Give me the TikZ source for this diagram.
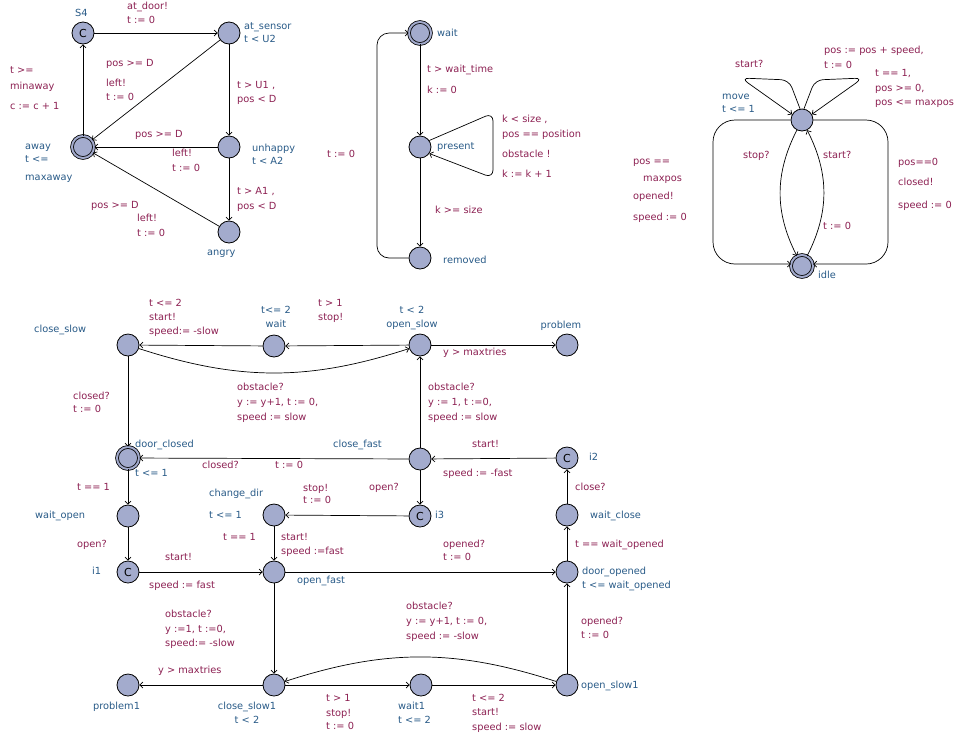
\documentclass[tikz,border=0pt]{standalone}
\usepackage{fontspec}
\setmainfont{DejaVu Sans}
\usepackage{tikz}
\usetikzlibrary{arrows.meta}
\definecolor{locfill}{RGB}{163,171,205}
\definecolor{locname}{RGB}{40,90,135}
\definecolor{guardcol}{RGB}{140,32,82}
\tikzset{
    loc/.style={draw, circle, fill=locfill, minimum size=22pt, inner sep=0pt, line width=0.8pt, font=\fontsize{11}{12}\selectfont},
    initloc/.style={loc, double=locfill, double distance=2pt},
    edge/.style={-{Straight Barb[length=3pt, width=6pt]}, line width=0.7pt},
    lname/.style={text=locname, inner sep=0pt, anchor=north west, align=left, font=\fontsize{9.8}{15}\selectfont},
    lbl/.style={text=guardcol, inner sep=0pt, anchor=north west, align=left, font=\fontsize{9.8}{15}\selectfont}
}

\begin{document}
\begin{tikzpicture}[x=1pt, y=-1pt]
    \useasboundingbox (0,0) rectangle (961,740);

    % user
    \node[loc] (S4) at (83,33) {C};
    \node[loc] (at_sensor) at (229,33) {};
    \node[initloc] (away) at (83,147) {};
    \node[loc] (unhappy) at (229,147) {};
    \node[loc] (angry) at (229,232) {};
    \node[lname] (n-S4) at (75,9) {S4};
    \node[lname] (n-at_sensor) at (244,22) {at\_sensor\\[-2pt]t < U2};
    \node[lname] (n-away) at (25,144) {away\\[-2pt]t <=\\[3pt]maxaway};
    \node[lname] (n-unhappy) at (252,144) {unhappy\\[-2pt]t < A2};
    \node[lname] (n-angry) at (207,250) {angry};

    \draw[edge] (S4) -- (at_sensor);
    \draw[edge] (at_sensor) -- (away);
    \draw[edge] (at_sensor) -- (unhappy);
    \draw[edge] (unhappy) -- (away);
    \draw[edge] (unhappy) -- (angry);
    \draw[edge] (angry) -- (away);
    \draw[edge] (away) -- (S4);
    \node[lbl] (e-door) at (127,2) {at\_door!\\[-1pt]t := 0};
    \node[lbl] (e-left1) at (106,59) {pos >= D\\[5pt]left!\\[-1pt]t := 0};
    \node[lbl] (e-u1) at (237,81) {t > U1 ,\\[-1pt]pos < D};
    \node[lbl] (e-pos2) at (135,130) {pos >= D};
    \node[lbl] (e-left2) at (172,149) {left!\\t := 0};
    \node[lbl] (e-a1) at (237,187) {t > A1 ,\\pos < D};
    \node[lbl] (e-pos3) at (91,201) {pos >= D};
    \node[lbl] (e-left3) at (137,214) {left!\\t := 0};
    \node[lbl] (e-back) at (10,66) {t >=\\[1pt]minaway\\[5pt]c := c + 1};

    % obstacle
    \node[initloc] (obwait) at (420,33) {};
    \node[loc] (present) at (420,147) {};
    \node[loc] (removed) at (420,258) {};
    \node[lname] (n-obwait) at (437,29) {wait};
    \node[lname] (n-present) at (437,142) {present};
    \node[lname] (n-removed) at (443,256) {removed};

    \draw[edge] (obwait) -- (present);
    \draw[edge] (present) -- (removed);
    \draw[edge, rounded corners=8pt] (present.35) -- (493,113) -- (493,178) -- (present.-35);
    \draw[edge, rounded corners=12pt] (removed.west) -| (377,150) |- (obwait.west);
    \node[lbl] (e-appear) at (427,65) {t > wait\_time\\[6pt]k := 0};
    \node[lbl] (e-obst) at (502,115) {k < size ,\\pos == position\\[5pt]obstacle !\\[5pt]k := k + 1};
    \node[lbl] (e-gone) at (435,206) {k >= size};
    \node[lbl] (e-reset) at (327,150) {t := 0};

    % door motor
    \node[loc] (move) at (802,120) {};
    \node[initloc] (idle) at (802,266) {};
    \node[lname] (n-move) at (722,94) {move\\[-2pt]t <= 1};
    \node[lname] (n-idle) at (818,271) {idle};

    \draw[edge, rounded corners=8pt] (move.100) -- (789,80) -- (741,78) -- (move.150);
    \draw[edge, rounded corners=8pt] (move.80) -- (815,80) -- (863,78) -- (move.30);
    \draw[edge, rounded corners=22pt] (move.west) -| (713,190) |- (idle.170);
    \draw[edge, rounded corners=22pt] (move.east) -| (888,190) |- (idle.10);
    \draw[edge] (move) to[bend right=27] (idle);
    \draw[edge] (idle) to[bend right=27] (move);
    \node[lbl] (e-start1) at (735,60) {start?};
    \node[lbl] (e-step) at (824,46) {pos := pos + speed,\\t := 0};
    \node[lbl] (e-tick) at (875,69) {t == 1,\\pos >= 0,\\[-1pt]pos <= maxpos};
    \node[lbl] (e-top) at (633,159) {pos ==\\[2pt]\hspace*{10pt}maxpos\\[3pt]opened!\\[6pt]speed := 0};
    \node[lbl] (e-bottom) at (898,158) {pos==0\\[5pt]closed!\\[8pt]speed := 0};
    \node[lbl] (e-stop) at (743,151) {stop?};
    \node[lbl] (e-start2) at (823,151) {start?};
    \node[lbl] (e-clock) at (823,222) {t := 0};

    % controller
    \node[loc] (close_slow) at (128,345) {};
    \node[loc] (wait) at (274,346) {};
    \node[loc] (open_slow) at (420,345) {};
    \node[loc] (problem) at (567,345) {};
    \node[initloc] (door_closed) at (128,458) {};
    \node[loc] (close_fast) at (420,459) {};
    \node[loc] (i2) at (567,458) {C};
    \node[loc] (wait_open) at (128,516) {};
    \node[loc] (change_dir) at (274,515) {};
    \node[loc] (i3) at (420,516) {C};
    \node[loc] (wait_close) at (567,515) {};
    \node[loc] (i1) at (128,572) {C};
    \node[loc] (open_fast) at (274,572) {};
    \node[loc] (door_opened) at (567,572) {};
    \node[loc] (problem1) at (128,685) {};
    \node[loc] (close_slow1) at (274,685) {};
    \node[loc] (wait1) at (421,685) {};
    \node[loc] (open_slow1) at (567,685) {};

    \node[lname] (n-close_slow) at (34,325) {close\_slow};
    \node[lname, anchor=north, align=center] (n-wait) at (276,306) {t<= 2\\[-1pt]wait};
    \node[lname, anchor=north, align=center] (n-open_slow) at (412,306) {t < 2\\[-1pt]open\_slow};
    \node[lname, anchor=north] (n-problem) at (561,321) {problem};
    \node[lname] (n-door_closed) at (135,440) {door\_closed};
    \node[lname] (n-dc_inv) at (135,469) {t <= 1};
    \node[lname] (n-close_fast) at (333,440) {close\_fast};
    \node[lname] (n-i2) at (589,453) {i2};
    \node[lname] (n-wait_open) at (35,511) {wait\_open};
    \node[lname] (n-change_dir) at (209,489) {change\_dir};
    \node[lname] (n-cd_inv) at (209,511) {t <= 1};
    \node[lname] (n-i3) at (435,511) {i3};
    \node[lname] (n-wait_close) at (590,511) {wait\_close};
    \node[lname] (n-i1) at (92,567) {i1};
    \node[lname] (n-open_fast) at (297,576) {open\_fast};
    \node[lname] (n-door_opened) at (582,567) {door\_opened\\[-1pt]t <= wait\_opened};
    \node[lname] (n-problem1) at (93,702) {problem1};
    \node[lname, anchor=north, align=center] (n-close_slow1) at (247,702) {close\_slow1\\[-1pt]t < 2};
    \node[lname] (n-wait1) at (398,702) {wait1\\[-1pt]t <= 2};
    \node[lname] (n-open_slow1) at (581,681) {open\_slow1};

    \draw[edge] (open_slow) -- (wait);
    \draw[edge] (wait) -- (close_slow);
    \draw[edge] (close_slow) to[bend right=18] (open_slow);
    \draw[edge] (open_slow) -- (problem);
    \draw[edge] (close_slow) -- (door_closed);
    \draw[edge] (close_fast) -- (open_slow);
    \draw[edge] (close_fast) -- (door_closed);
    \draw[edge] (i2) -- (close_fast);
    \draw[edge] (close_fast) -- (i3);
    \draw[edge] (i3) -- (change_dir);
    \draw[edge] (door_closed) -- (wait_open);
    \draw[edge] (wait_open) -- (i1);
    \draw[edge] (change_dir) -- (open_fast);
    \draw[edge] (i1) -- (open_fast);
    \draw[edge] (open_fast) -- (door_opened);
    \draw[edge] (open_fast) -- (close_slow1);
    \draw[edge] (door_opened) -- (wait_close);
    \draw[edge] (wait_close) -- (i2);
    \draw[edge] (open_slow1) -- (door_opened);
    \draw[edge] (close_slow1) -- (problem1);
    \draw[edge] (close_slow1) -- (wait1);
    \draw[edge] (wait1) -- (open_slow1);
    \draw[edge] (open_slow1) to[bend right=18] (close_slow1);

    \node[lbl] (e-os_w) at (318,299) {t > 1\\[-1pt]stop!};
    \node[lbl] (e-w_cs) at (149,299) {t <= 2\\[-1pt]start!\\[-1pt]speed:= -slow};
    \node[lbl] (e-cs_os) at (237,383) {obstacle?\\y := y+1, t := 0,\\speed := slow};
    \node[lbl] (e-os_p) at (443,348) {y > maxtries};
    \node[lbl] (e-cs_dc) at (73,392) {closed?\\[-2pt]t := 0};
    \node[lbl] (e-cf_os) at (428,383) {obstacle?\\y := 1, t :=0,\\speed := slow};
    \node[lbl] (e-cf_dc1) at (202,461) {closed?};
    \node[lbl] (e-cf_dc2) at (275,461) {t := 0};
    \node[lbl] (e-i2_cf1) at (472,440) {start!};
    \node[lbl] (e-i2_cf2) at (443,469) {speed := -fast};
    \node[lbl] (e-cf_i3) at (369,483) {open?};
    \node[lbl] (e-i3_cd) at (303,484) {stop!\\[-3pt]t := 0};
    \node[lbl] (e-dc_wo) at (77,483) {t == 1};
    \node[lbl] (e-wo_i1) at (77,540) {open?};
    \node[lbl] (e-cd_of1) at (223,533) {t == 1};
    \node[lbl] (e-cd_of2) at (281,533) {start!\\[-1pt]speed :=fast};
    \node[lbl] (e-i1_of1) at (165,553) {start!};
    \node[lbl] (e-i1_of2) at (149,581) {speed := fast};
    \node[lbl] (e-of_do) at (443,540) {opened?\\[-2pt]t := 0};
    \node[lbl] (e-of_cs1) at (165,610) {obstacle?\\y :=1, t :=0,\\[-1pt]speed:= -slow};
    \node[lbl] (e-do_wc) at (575,540) {t == wait\_opened};
    \node[lbl] (e-wc_i2) at (575,483) {close?};
    \node[lbl] (e-os1_do) at (581,617) {opened?\\[-1pt]t := 0};
    \node[lbl] (e-cs1_p1) at (158,666) {y > maxtries};
    \node[lbl] (e-cs1_w1) at (326,694) {t > 1\\stop!\\[-2pt]t := 0};
    \node[lbl] (e-w1_os1) at (472,694) {t <= 2\\[-1pt]start!\\speed := slow};
    \node[lbl] (e-os1_cs1) at (406,602) {obstacle?\\y := y+1, t := 0,\\speed := -slow};
\end{tikzpicture}
\end{document}
